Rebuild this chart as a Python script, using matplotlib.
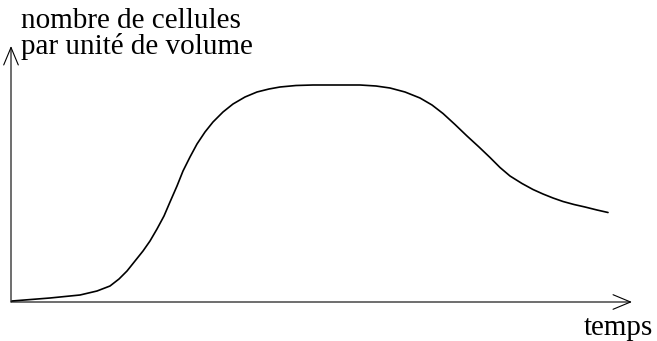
import numpy as np
import matplotlib
matplotlib.use('Agg')
import matplotlib.pyplot as plt

plt.rcParams.update({
    'font.family': ['Liberation Serif', 'DejaVu Serif'],
    'font.size': 21,
})

# ── data (arbitrary units) ────────────────────────────────────────────────────
temps = [1, 39, 69, 86, 99, 108, 116, 124, 132, 139, 146, 153, 159, 166,
         172, 179, 186, 194, 202, 212, 222, 234, 246, 258, 269, 285, 302,
         325, 349, 365, 379, 394, 409, 421, 432, 444, 456, 468, 479, 489,
         499, 511, 522, 532, 542, 552, 563, 574, 586, 597]
cellules = [1, 4, 7, 11, 16, 23, 31, 41, 51, 61, 73, 86, 100, 116,
            131, 145, 158, 170, 180, 190, 198, 205, 210, 213, 215, 216.5, 217,
            217, 217, 216, 214, 210, 204, 197, 188.5, 177.5, 166, 155, 144.5, 134.5,
            126, 118.5, 112.5, 108, 104, 100.5, 97.5, 95, 92, 89.5]

x_max = 621   # bout de l'axe des temps
y_max = 256   # bout de l'axe vertical

# ── figure ────────────────────────────────────────────────────────────────────
fig = plt.figure(figsize=(6.57, 3.41), dpi=100)
ax = fig.add_axes([0, 0, 1, 1])
ax.set_xlim(-11, 646)
ax.set_ylim(-39, 302)
ax.axis('off')

arrow = dict(arrowstyle='->,head_length=0.6,head_width=0.25',
             color='black', lw=0.8, shrinkA=0, shrinkB=0)
ax.annotate('', xy=(x_max, 0), xytext=(0, 0), arrowprops=arrow)
ax.annotate('', xy=(0, y_max), xytext=(0, 0), arrowprops=arrow)

ax.plot(temps, cellules, color='black', lw=1.2,
        solid_capstyle='round', solid_joinstyle='round')

ax.text(10, 274, 'nombre de cellules', ha='left', va='baseline')
ax.text(10, 248, 'par unité de volume', ha='left', va='baseline')
ax.text(642, -33, 'temps', ha='right', va='baseline')

fig.savefig('out.png', dpi=100, facecolor='white')
plt.close(fig)
